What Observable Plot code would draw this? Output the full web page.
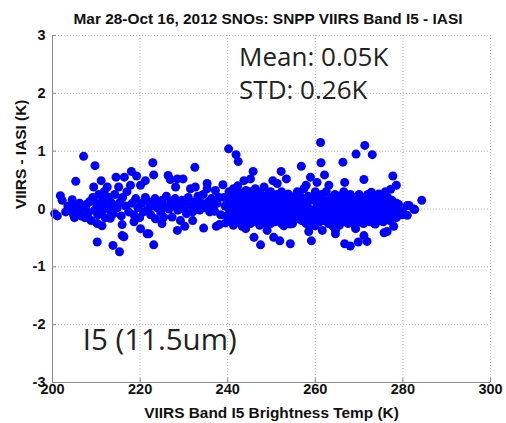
<!DOCTYPE html>
<html><head><meta charset="utf-8">
<script src="https://cdn.jsdelivr.net/npm/d3@7"></script>
<script src="https://cdn.jsdelivr.net/npm/@observablehq/plot@0.6"></script>
<style>
body{margin:0;background:#fff;}
#wrap{position:relative;width:506px;height:423px;overflow:hidden;}
#title{position:absolute;left:0;width:536px;top:10px;text-align:center;font:bold 15.4px "Liberation Sans",Arial,sans-serif;color:#111;white-space:nowrap;}
#chart{position:absolute;left:0;top:0;}
</style></head>
<body><div id="wrap"><div id="chart"></div><div id="title">Mar 28-Oct 16, 2012 SNOs: SNPP VIIRS Band I5 - IASI</div></div>
<script>
const xTicks = [200, 220, 240, 260, 280, 300];
const yTicks = [-3, -2, -1, 0, 1, 2, 3];
const xLabel = "VIIRS Band I5 Brightness Temp (K)";
const yLabel = "VIIRS - IASI (K)";
const notes = [
  {x: 242.6, y: 2.48, text: "Mean: 0.05K", size: 26},
  {x: 242.6, y: 1.905, text: "STD: 0.26K", size: 26},
  {x: 206.9, y: -2.435, text: "I5 (11.5um)", size: 29.5}
];

// cooler scenes, 200-240 K: [brightness temp K, VIIRS - IASI K]
const coolScenes = [
[200.5,-0.08],[201.1,-0.12],[201.8,0.23],[202.2,0.15],[203.0,-0.05],[203.5,0.05],[204.0,-0.02],[204.5,0.16],[204.8,-0.10],[205.3,0.05],
[205.8,-0.04],[206.2,0.10],[206.5,-0.12],[207.0,0.02],[207.4,-0.15],[207.8,0.08],[208.2,-0.06],[208.5,0.13],[208.8,-0.20],[209.2,0.20],
[209.4,0.38],[209.6,-0.02],[210.0,0.10],[210.3,-0.10],[210.6,0.25],[210.9,0.02],[211.2,-0.05],[211.5,0.15],[211.8,0.30],[212.0,-0.15],
[212.3,0.05],[212.5,0.38],[212.8,0.20],[213.1,-0.02],[213.5,0.10],[213.9,-0.08],[214.2,0.25],[214.5,0.55],[214.8,0.02],[215.1,0.38],
[215.4,0.12],[215.7,-0.12],[216.0,0.20],[216.4,0.55],[216.7,0.05],[217.0,0.30],[217.4,-0.05],[217.8,0.41],[218.0,0.65],[218.2,0.10],
[218.6,-0.10],[219.0,0.18],[219.2,0.57],[219.5,0.02],[219.9,-0.15],[220.1,0.41],[220.4,0.10],[220.8,-0.05],[221.2,0.49],[221.2,0.20],
[221.6,-0.02],[222.0,0.12],[222.4,-0.10],[222.8,0.05],[223.1,0.59],[223.4,0.18],[223.5,-0.17],[223.9,0.02],[224.3,0.10],[224.7,-0.05],
[225.0,0.15],[225.4,-0.14],[225.7,0.05],[226.0,0.22],[226.4,0.58],[226.6,0.00],[226.9,0.51],[227.0,0.12],[227.3,-0.14],[227.6,0.05],
[228.0,0.18],[228.1,0.38],[228.5,0.52],[228.6,-0.02],[229.0,0.08],[229.2,-0.20],[229.5,0.15],[229.8,0.52],[230.0,0.00],[230.3,0.10],
[230.6,-0.08],[231.0,0.20],[231.5,0.35],[231.7,0.05],[232.0,-0.05],[232.3,0.12],[232.6,0.38],[232.8,0.00],[233.2,0.22],[233.6,-0.02],
[234.0,0.10],[234.4,0.25],[234.8,0.02],[235.3,0.44],[235.3,0.35],[235.5,0.12],[235.9,-0.05],[236.3,0.18],[236.7,0.05],[237.0,-0.04],
[237.2,0.32],[237.6,0.10],[238.0,0.20],[238.4,-0.10],[238.9,0.42],[239.1,0.20],[239.4,0.05],[239.8,-0.12],
[210.2,-0.25],[211.3,-0.29],[215.9,-0.27],[213.2,-0.16],[220.1,-0.34],[215.9,-0.46],[210.2,-0.57],[213.8,-0.63],[215.3,-0.74],[221.6,-0.43],
[222.0,-0.43],[223.1,-0.62],[216.3,-0.48],[228.5,-0.37],[230.2,-0.30],[234.5,-0.33],[237.4,-0.30],[238.1,-0.27],[239.5,-0.24],[218.6,-0.22],
[225.0,-0.25],[232.0,-0.20],[205.0,-0.15],[208.0,-0.08],
[207.1,0.91],[209.7,0.75],[205.3,0.48],[211.1,0.49],[222.9,0.80],[232.5,0.72]
];

// warmer scenes, 240-285 K
const warmScenes = [
[240.2,1.04],[241.9,0.94],[242.4,0.82],
[240.3,-0.20],[240.3,0.00],[240.3,0.15],[240.3,0.30],[240.8,-0.10],[240.8,0.08],[240.8,0.22],
[241.3,-0.28],[241.3,-0.05],[241.3,0.12],[241.3,0.35],[241.8,-0.15],[241.8,0.02],[241.8,0.25],
[242.3,-0.22],[242.3,-0.02],[242.3,0.18],[242.3,0.40],[242.8,-0.08],[242.8,0.10],[242.8,0.28],
[243.3,-0.30],[243.3,-0.12],[243.3,0.05],[243.3,0.22],[243.7,0.49],[243.7,-0.02],[243.7,0.14],
[244.2,-0.20],[244.2,0.00],[244.2,0.18],[244.2,0.32],[244.7,-0.10],[244.7,0.08],[244.7,0.25],
[245.2,0.52],[245.2,-0.25],[245.2,-0.05],[245.2,0.12],[245.2,0.30],[245.8,0.65],[245.8,-0.15],[245.8,0.02],[245.8,0.20],
[246.3,-0.22],[246.3,-0.04],[246.3,0.15],[246.3,0.35],[246.8,-0.12],[246.8,0.06],[246.8,0.24],
[247.3,-0.28],[247.3,-0.08],[247.3,0.10],[247.3,0.28],[247.8,-0.18],[247.8,0.00],[247.8,0.18],
[248.3,-0.10],[248.3,0.05],[248.3,0.22],[248.3,0.38],[248.8,-0.20],[248.8,-0.02],[248.8,0.15],
[249.3,-0.12],[249.3,0.08],[249.3,0.25],[249.8,-0.25],[249.8,-0.05],[249.8,0.12],[249.8,0.30],
[250.3,-0.15],[250.3,0.02],[250.3,0.20],[250.3,0.49],[250.8,-0.22],[250.8,-0.04],[250.8,0.14],
[251.3,0.44],[251.3,-0.10],[251.3,0.06],[251.3,0.25],[251.8,-0.18],[251.8,0.00],[251.8,0.18],
[252.3,-0.25],[252.3,-0.08],[252.3,0.10],[252.3,0.30],[252.8,-0.12],[252.8,0.04],[252.8,0.22],
[253.3,-0.20],[253.3,-0.02],[253.3,0.15],[253.4,0.52],[253.8,-0.10],[253.8,0.08],[253.8,0.26],
[254.3,-0.18],[254.3,0.00],[254.3,0.18],[254.8,-0.25],[254.8,-0.06],[254.8,0.10],
[255.3,-0.12],[255.3,0.05],[255.3,0.22],[255.9,-0.17],[255.9,0.00],[255.9,0.15],[255.9,0.30],
[256.4,-0.08],[256.4,0.10],[256.4,0.25],[256.9,-0.20],[256.9,-0.02],[256.9,0.18],
[257.4,0.35],[257.4,-0.12],[257.4,0.08],[257.9,-0.25],[257.9,-0.05],[257.9,0.12],[257.9,0.41],
[258.4,-0.15],[258.4,0.02],[258.4,0.22],[258.9,0.55],[258.9,-0.20],[258.9,0.15],
[259.5,-0.28],[259.5,-0.10],[259.5,0.20],[260.0,-0.18],[260.0,0.00],[260.0,0.14],[260.0,0.30],
[260.5,-0.08],[260.5,0.10],[260.4,0.46],[261.0,-0.22],[261.0,-0.02],[261.0,0.18],
[261.5,-0.12],[261.5,0.05],[261.5,0.25],[262.0,-0.20],[262.0,0.00],[262.0,0.15],[262.1,0.59],
[262.5,-0.10],[262.5,0.08],[262.5,0.30],[263.0,-0.25],[263.0,-0.05],[263.0,0.12],[263.1,0.41],
[263.5,-0.15],[263.5,0.02],[263.5,0.20],[264.0,-0.22],[264.0,-0.04],[264.0,0.10],
[264.5,-0.12],[264.5,0.05],[264.5,0.25],[265.0,-0.20],[265.0,0.00],[265.0,0.15],
[265.5,-0.28],[265.5,-0.08],[265.5,0.08],[265.5,0.22],[266.0,-0.15],[266.0,0.02],[266.0,0.18],
[266.5,-0.22],[266.5,-0.05],[266.5,0.12],[266.5,0.30],[267.0,-0.10],[267.0,0.05],[267.0,0.20],
[267.5,-0.25],[267.5,-0.02],[267.5,0.15],[268.0,-0.15],[268.0,0.08],[268.0,0.25],
[268.5,-0.20],[268.5,0.00],[268.5,0.12],[269.0,-0.28],[269.0,-0.08],[269.0,0.05],[269.0,0.20],
[269.5,-0.15],[269.5,0.02],[269.5,0.15],[270.0,-0.22],[270.0,-0.05],[270.0,0.10],[270.0,0.25],
[270.5,-0.12],[270.5,0.05],[270.5,0.18],[271.0,-0.25],[271.0,-0.02],[271.0,0.12],
[271.5,-0.18],[271.5,0.00],[271.5,0.20],[272.0,-0.10],[272.0,0.08],[272.0,0.25],
[272.5,-0.22],[272.5,-0.05],[272.5,0.12],[273.0,-0.15],[273.0,0.02],[273.0,0.18],
[273.5,-0.25],[273.5,-0.08],[273.5,0.05],[273.5,0.20],[274.0,-0.12],[274.0,0.00],[274.0,0.15],
[274.5,-0.20],[274.5,-0.05],[274.5,0.10],[275.0,-0.12],[275.0,0.02],[275.0,0.18],
[275.5,-0.22],[275.5,-0.08],[275.5,0.08],[276.0,-0.15],[276.0,0.00],[276.0,0.12],
[276.5,-0.10],[276.5,0.05],[276.5,0.20],[277.0,-0.20],[277.0,-0.05],[277.0,0.08],
[277.5,-0.12],[277.5,0.02],[277.5,0.15],[278.0,-0.08],[278.0,0.06],[278.5,-0.15],[278.5,0.00],[278.5,0.10],
[279.0,-0.05],[279.0,0.08],[279.8,-0.10],[279.8,-0.03],[280.2,-0.08],[281.0,0.06],[281.0,-0.11],[281.4,0.06],
[282.5,0.00],[282.7,-0.01],[284.3,0.15],
[256.8,0.74],[261.2,1.15],[261.3,0.80],[252.2,0.65],[271.3,1.10],[269.3,0.95],[273.0,0.94],[266.3,0.81],
[271.1,0.51],[277.7,0.57],[266.7,0.46],[278.5,0.41],[277.2,0.34],[276.0,0.30],[272.8,0.29],[274.5,0.26],
[246.0,-0.49],[247.5,-0.62],[248.9,-0.26],[249.0,-0.37],[250.5,-0.49],[251.9,-0.55],[254.3,-0.60],[252.8,-0.29],
[254.3,-0.26],[258.5,-0.39],[259.1,-0.55],[261.6,-0.37],[260.0,-0.29],[244.1,-0.34],[243.5,-0.27],[257.0,-0.11],
[263.9,-0.29],[264.6,-0.37],[277.9,-0.30],[276.4,-0.39],[275.7,-0.41],[269.2,-0.34],[271.1,-0.46],[271.8,-0.56],
[269.8,-0.57],[266.7,-0.60],[268.0,-0.64],[264.6,-0.43],[273.7,-0.26],[274.5,-0.20]
];

const points = coolScenes.concat(warmScenes);
const font = '"Liberation Sans", Arial, sans-serif';

const chart = Plot.plot({
  width: 506,
  height: 423,
  marginLeft: 52,
  marginRight: 16,
  marginTop: 35,
  marginBottom: 41,
  style: {fontFamily: font, background: "#fff", overflow: "visible"},
  x: {domain: [200, 300]},
  y: {domain: [-3, 3]},
  marks: [
    Plot.gridX(xTicks, {stroke: "#b4b4b4", strokeOpacity: 1, strokeDasharray: "1,2"}),
    Plot.gridY(yTicks, {stroke: "#b4b4b4", strokeOpacity: 1, strokeDasharray: "1,2"}),
    Plot.dot(points, {x: d => d[0], y: d => d[1], r: 4.5, fill: "#0000ff", stroke: null}),
    Plot.ruleX([200], {stroke: "#888", strokeWidth: 1}),
    Plot.ruleY([-3], {stroke: "#888", strokeWidth: 1}),
    Plot.axisX({ticks: xTicks, tickFormat: d => String(d), tickSize: -4, tickPadding: 5, stroke: "#888", label: null,
      fontSize: 14.5, fontWeight: "bold", fill: "#111"}),
    Plot.axisY({ticks: yTicks, tickFormat: d => String(d), tickSize: -4, tickPadding: 11, stroke: "#888", label: null,
      fontSize: 14.5, fontWeight: "bold", fill: "#111"}),
    Plot.text([xLabel], {frameAnchor: "bottom", dy: 31, fontSize: 15.4, fontWeight: "bold", fill: "#111", lineAnchor: "middle"}),
    Plot.text([yLabel], {frameAnchor: "left", dx: -31, rotate: -90, fontSize: 15.4, fontWeight: "bold", fill: "#111", lineAnchor: "middle"}),
    Plot.text(notes, {x: "x", y: "y", text: "text", fontSize: d => d.size, textAnchor: "start", lineAnchor: "bottom",
      fill: "#222", fontFamily: '"Open Sans", sans-serif'})
  ]
});
document.getElementById("chart").appendChild(chart);
</script></body></html>
